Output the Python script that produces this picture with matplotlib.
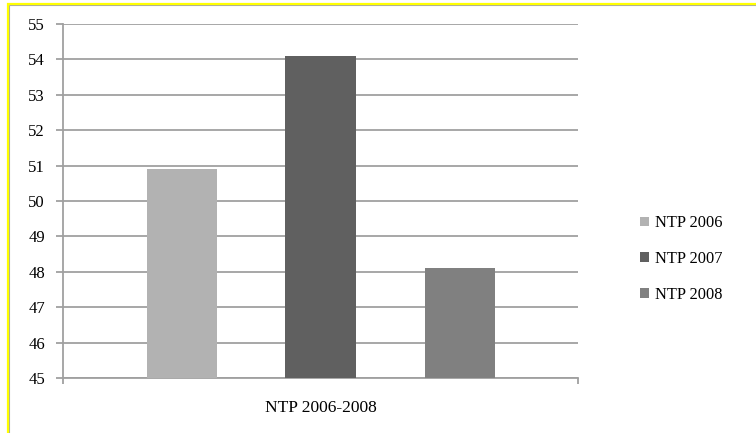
import numpy as np
import matplotlib.pyplot as plt
from matplotlib.patches import Rectangle

plt.rcParams['font.family'] = ['Liberation Serif', 'DejaVu Serif']

series = ['NTP 2006', 'NTP 2007', 'NTP 2008']
values = [50.9, 54.1, 48.1]
colors = ['#b2b2b2', '#606060', '#808080']
category = 'NTP 2006-2008'
yticks = list(range(45, 56))

fig = plt.figure(figsize=(7.56, 4.33), dpi=100)
ax = fig.add_axes([63 / 756, 1 - 378 / 433, 515 / 756, 354 / 433])

grid_c = '#a0a0a0'
offsets = [-0.269, 0.0, 0.27]
width = 0.136
for name, v, c, off in zip(series, values, colors, offsets):
    ax.bar(off, v - 45, bottom=45, width=width, color=c, label=name, zorder=3)

ax.set_xlim(-0.5, 0.5)
ax.set_ylim(45, 55)
ax.set_yticks(yticks)
ax.yaxis.grid(True, color=grid_c, linewidth=1.3, zorder=0)

for s in ['top', 'right']:
    ax.spines[s].set_visible(False)
for s in ['left', 'bottom']:
    ax.spines[s].set_color(grid_c)
    ax.spines[s].set_linewidth(1.3)

ax.tick_params(axis='y', length=5, width=1.3, color=grid_c, labelsize=12, pad=8)
ax.set_xticks([0])
ax.set_xticklabels([category], fontsize=12.5)
ax.tick_params(axis='x', length=0, pad=16)
ax.set_xticks([-0.5, 0.5], minor=True)
ax.tick_params(axis='x', which='minor', length=4, width=1.3, color=grid_c)

fig.legend(loc='center left', bbox_to_anchor=(633 / 756, 1 - 259 / 433),
           frameon=False, fontsize=11.8, handlelength=0.55, handleheight=0.55,
           handletextpad=0.4, labelspacing=1.2, borderaxespad=0)

# yellow outline of the chart area, running off the right and bottom edges
fig.patches.append(Rectangle((9 / 756, -0.2), 1.2, 1.2 - 4.5 / 433,
                             transform=fig.transFigure, fill=False,
                             edgecolor='#a8a8a8', linewidth=0.8))
fig.patches.append(Rectangle((8 / 756, -0.2), 1.2, 1.2 - 4 / 433,
                             transform=fig.transFigure, fill=False,
                             edgecolor='#ffff00', linewidth=1.6))

fig.savefig('out.png', dpi=100)
